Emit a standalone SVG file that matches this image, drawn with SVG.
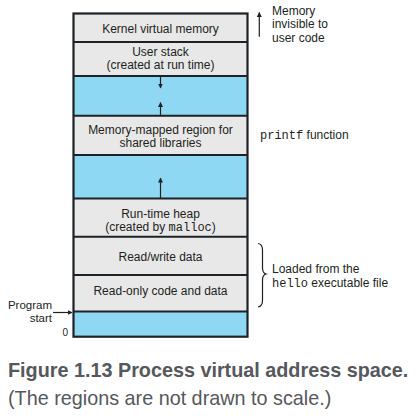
<svg xmlns="http://www.w3.org/2000/svg" width="415" height="417" viewBox="0 0 415 417">
<style>
.g{fill:#e8e8e8}
.b{fill:#8fd8f4}
.t{font-family:"Liberation Sans",Arial,sans-serif;font-size:12px;fill:#231f20}
.c{text-anchor:middle}
.m{font-family:"Liberation Mono","Courier New",monospace;font-size:12px}
.ln{stroke:#231f20;stroke-width:1.2;fill:none}
.div{stroke:#1c2226;stroke-width:2;fill:none}
.cap{font-family:"Liberation Sans",Arial,sans-serif;fill:#55585c}
</style>
<defs>
<marker id="ah" viewBox="0 0 10 10" refX="9" refY="5" markerWidth="5" markerHeight="5" orient="auto" markerUnits="userSpaceOnUse">
<path d="M0,0 L10,5 L0,10 Z" fill="#231f20"/>
</marker>
</defs>
<g id="kernel"><rect class="g" x="73.5" y="13.5" width="174" height="28.5"/><text class="t c" x="160.5" y="33">Kernel virtual memory</text></g>
<g id="userstack"><rect class="g" x="73.5" y="42" width="174" height="34"/><text class="t c" x="160.5" y="56">User stack</text><text class="t c" x="160.5" y="69">(created at run time)</text></g>
<g id="gap1"><rect class="b" x="73.5" y="76" width="174" height="39.7"/></g>
<g id="mmap"><rect class="g" x="73.5" y="115.7" width="174" height="39.3"/><text class="t c" x="160.5" y="134">Memory-mapped region for</text><text class="t c" x="160.5" y="147">shared libraries</text></g>
<g id="gap2"><rect class="b" x="73.5" y="155" width="174" height="43.5"/></g>
<g id="heap"><rect class="g" x="73.5" y="198.5" width="174" height="38.3"/><text class="t c" x="160.5" y="218">Run-time heap</text><text class="t c" x="160.5" y="230.5">(created by <tspan class="m">malloc</tspan>)</text></g>
<g id="rwdata"><rect class="g" x="73.5" y="236.8" width="174" height="38.2"/><text class="t c" x="160.5" y="261">Read/write data</text></g>
<g id="rodata"><rect class="g" x="73.5" y="275" width="174" height="36.5"/><text class="t c" x="160.5" y="295">Read-only code and data</text></g>
<g id="bottom"><rect class="b" x="73.5" y="311.5" width="174" height="25.2"/></g>
<g id="frame">
<rect x="73.5" y="13.5" width="174" height="323.2" fill="none" stroke="#1c2226" stroke-width="2.2"/>
<path class="div" d="M73.5,42H247.5M73.5,76H247.5M73.5,115.7H247.5M73.5,155H247.5M73.5,198.5H247.5M73.5,236.8H247.5M73.5,275H247.5M73.5,311.5H247.5"/>
</g>
<g id="connectors">
<line class="ln" x1="160.5" y1="77" x2="160.5" y2="88" marker-end="url(#ah)"/>
<line class="ln" x1="160.5" y1="115" x2="160.5" y2="102.5" marker-end="url(#ah)"/>
<line class="ln" x1="160.5" y1="198" x2="160.5" y2="178" marker-end="url(#ah)"/>
<line class="ln" x1="259.3" y1="36.7" x2="259.3" y2="12.5" marker-end="url(#ah)"/>
<line class="ln" x1="53" y1="312.5" x2="72" y2="312.5" stroke-width="0.9" marker-end="url(#ah)"/>
<path class="ln" stroke-width="1" d="M258,243.5 Q262.5,244 262.5,250 V268 Q262.5,273 266,274 Q262.5,275 262.5,280 V300 Q262.5,306.5 258,307"/>
</g>
<g id="labels">
<text class="t" x="272" y="14.5">Memory</text>
<text class="t" x="272" y="28">invisible to</text>
<text class="t" x="272" y="41.5">user code</text>
<text class="t" x="260" y="139"><tspan class="m">printf</tspan> function</text>
<text class="t" x="272" y="273">Loaded from the</text>
<text class="t" x="272" y="287"><tspan class="m">hello</tspan> executable file</text>
<text class="t" x="52" y="309" text-anchor="end" style="font-size:11.5px">Program</text>
<text class="t" x="52" y="321.5" text-anchor="end" style="font-size:11.5px">start</text>
<text class="t" x="62.5" y="336" style="font-size:10px">0</text>
</g>
<g id="caption">
<text class="cap" x="8" y="376.5" style="font-size:19.8px;font-weight:bold">Figure 1.13 Process virtual address space.</text>
<text class="cap" x="8" y="405" style="font-size:19.8px">(The regions are not drawn to scale.)</text>
</g>
</svg>
